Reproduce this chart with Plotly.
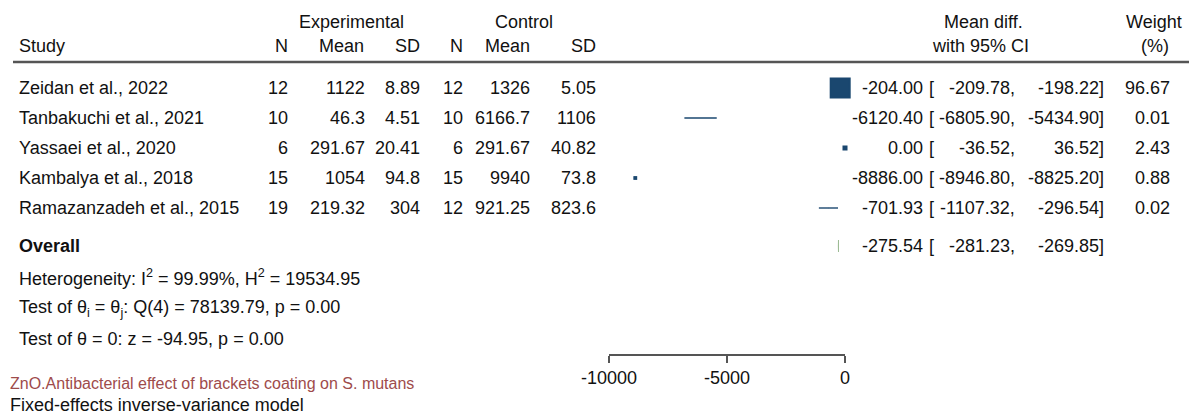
import numpy as np
import plotly.graph_objects as go

W, H = 1189, 414

# ---------------- data ----------------
studies = ["Zeidan et al., 2022", "Tanbakuchi et al., 2021", "Yassaei et al., 2020",
           "Kambalya et al., 2018", "Ramazanzadeh et al., 2015"]
exp_n = ["12", "10", "6", "15", "19"]
exp_mean = ["1122", "46.3", "291.67", "1054", "219.32"]
exp_sd = ["8.89", "4.51", "20.41", "94.8", "304"]
ctl_n = ["12", "10", "6", "15", "12"]
ctl_mean = ["1326", "6166.7", "291.67", "9940", "921.25"]
ctl_sd = ["5.05", "1106", "40.82", "73.8", "823.6"]
md = [-204.00, -6120.40, 0.00, -8886.00, -701.93]
ci_lo = [-209.78, -6805.90, -36.52, -8946.80, -1107.32]
ci_hi = [-198.22, -5434.90, 36.52, -8825.20, -296.54]
weight = [96.67, 0.01, 2.43, 0.88, 0.02]
overall = {"md": -275.54, "lo": -281.23, "hi": -269.85}
tick_vals = [-10000, -5000, 0]
tick_text = ["-10000", "-5000", "0"]
footnotes = ["Heterogeneity: I<sup>2</sup> = 99.99%, H<sup>2</sup> = 19534.95",
             "Test of θ<sub>i</sub> = θ<sub>j</sub>: Q(4) = 78139.79, p = 0.00",
             "Test of θ = 0: z = -94.95, p = 0.00"]
note1 = "ZnO.Antibacterial effect of brackets coating on S. mutans"
note2 = "Fixed-effects inverse-variance model"

# ---------------- layout helpers ----------------
FONT = "Liberation Sans, Arial, sans-serif"
FS = 18
ROW0, ROWH = 88, 30          # pixel y of first study row, row spacing
OVERALL_ROW = (246 - ROW0) / ROWH
NAVY = "#1a476f"

def px(x):
    return x / W

def py(y):
    return 1 - y / H

annotations = []

def txt(x, y, s, anchor="left", size=FS, color="#111", bold=False):
    if bold:
        s = "<b>" + s + "</b>"
    annotations.append(dict(x=px(x), y=py(y), xref="paper", yref="paper", text=s,
                            showarrow=False, xanchor=anchor, yanchor="middle",
                            font=dict(family=FONT, size=size, color=color)))

fig = go.Figure()

# CI lines
for i in range(len(studies)):
    fig.add_trace(go.Scatter(x=[ci_lo[i], ci_hi[i]], y=[i, i], mode="lines",
                             line=dict(color=NAVY, width=1.4), cliponaxis=False,
                             opacity=1, hoverinfo="skip", showlegend=False))

# weight-scaled squares (area proportional to weight)
wmax = max(weight)
sizes = [19 * np.sqrt(w / wmax) for w in weight]
edge = [2 if s > 1 else 0 for s in sizes]
fig.add_trace(go.Scatter(x=md, y=list(range(len(studies))), mode="markers",
                         marker=dict(symbol="square", size=sizes, color=NAVY, opacity=1,
                                     line=dict(color=NAVY, width=edge)),
                         opacity=1, cliponaxis=False, showlegend=False, hoverinfo="skip"))

# overall diamond
dh = 0.2
fig.add_trace(go.Scatter(x=[overall["lo"], overall["md"], overall["hi"], overall["md"], overall["lo"]],
                         y=[OVERALL_ROW, OVERALL_ROW - dh, OVERALL_ROW, OVERALL_ROW + dh, OVERALL_ROW],
                         mode="lines", fill="toself", fillcolor="#9dbb94",
                         line=dict(color="#9dbb94", width=1), cliponaxis=False,
                         showlegend=False, hoverinfo="skip"))

# ---------------- header ----------------
txt(351, 22, "Experimental", "center")
txt(524, 22, "Control", "center")
txt(983, 22, "Mean diff.", "center")
txt(1154, 22, "Weight", "center")
txt(17, 46, "Study")
for x, s in [(290, "N"), (366, "Mean"), (422, "SD"), (465, "N"), (532, "Mean"), (598, "SD")]:
    txt(x, 46, s, "right")
txt(980, 46, "with 95% CI", "center")
txt(1155, 46, "(%)", "center")

# ---------------- table rows ----------------
EST_R, BR_L, LO_R, HI_R, WT_R = 925, 927, 1017, 1106, 1172
for i in range(len(studies)):
    y = ROW0 + ROWH * i
    txt(17, y, studies[i])
    for x, s in [(290, exp_n[i]), (367, exp_mean[i]), (422, exp_sd[i]),
                 (465, ctl_n[i]), (532, ctl_mean[i]), (598, ctl_sd[i])]:
        txt(x, y, s, "right")
    txt(EST_R, y, f"{md[i]:.2f}", "right")
    txt(BR_L, y, "[", "left")
    txt(LO_R, y, f"{ci_lo[i]:.2f},", "right")
    txt(HI_R, y, f"{ci_hi[i]:.2f}]", "right")
    txt(WT_R, y, f"{weight[i]:.2f}", "right")

yo = 246
txt(17, yo, "Overall", bold=True)
txt(EST_R, yo, f"{overall['md']:.2f}", "right")
txt(BR_L, yo, "[", "left")
txt(LO_R, yo, f"{overall['lo']:.2f},", "right")
txt(HI_R, yo, f"{overall['hi']:.2f}]", "right")

for k, s in enumerate(footnotes):
    txt(17, 277 + 31 * k, s)

txt(8, 383, note1, size=16, color="#9e4b4b")
txt(8, 405, note2)

shapes = [dict(type="line", xref="paper", yref="paper", x0=px(13), x1=1, y0=py(62), y1=py(62),
               line=dict(color="#555555", width=2.5))]

y_top = -ROW0 / ROWH
y_bot = (H - ROW0) / ROWH

fig.update_layout(
    width=W, height=H, margin=dict(l=0, r=0, t=0, b=0, pad=0, autoexpand=False),
    paper_bgcolor="white", plot_bgcolor="white",
    showlegend=False, annotations=annotations, shapes=shapes,
    xaxis=dict(domain=[px(609), px(845)], range=[-10000, 0], anchor="free",
               position=py(355), showgrid=False, zeroline=False, automargin=False,
               showline=True, linecolor="#555555", linewidth=1.5,
               ticks="outside", ticklen=7, tickwidth=1.5, tickcolor="#555555",
               tickvals=tick_vals, ticktext=tick_text,
               tickfont=dict(family=FONT, size=FS, color="#111")),
    yaxis=dict(domain=[0, 1], range=[y_bot, y_top], visible=False, automargin=False,
               showgrid=False, zeroline=False),
)

fig.write_html("out.html", config={"displayModeBar": False},
               post_script="document.body.style.margin='0';document.body.style.overflow='hidden';")
